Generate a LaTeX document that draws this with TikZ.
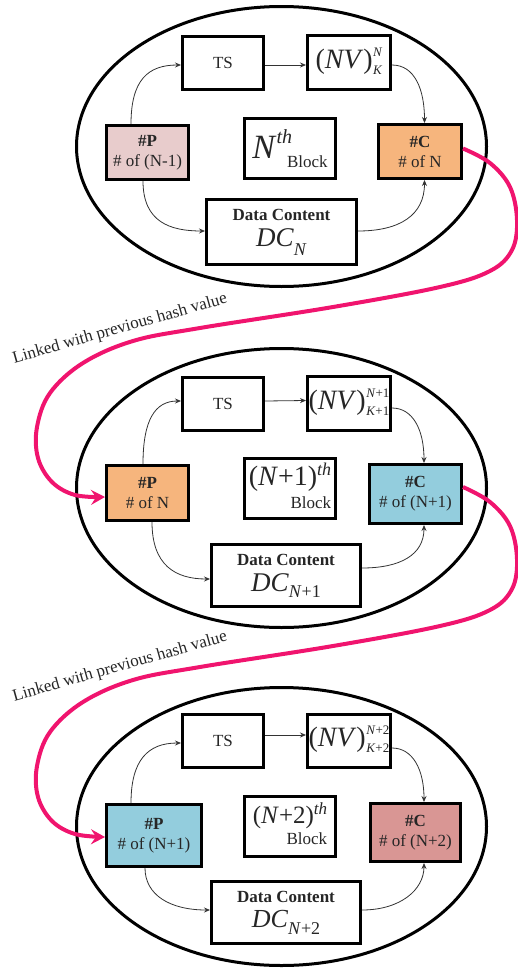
\documentclass[tikz,border=0pt]{standalone}
\usepackage{fontspec}
\setmainfont{Liberation Serif}
\usetikzlibrary{arrows.meta,shapes.geometric}
\definecolor{txt}{HTML}{262626}
\definecolor{pinkc}{RGB}{240,20,110}
\definecolor{fpink}{RGB}{232,204,204}
\definecolor{forange}{RGB}{246,181,125}
\definecolor{fblue}{RGB}{147,205,221}
\definecolor{frose}{RGB}{217,150,148}
\newcommand{\bigf}[2]{{\fontsize{#1}{#1}\selectfont #2}}
\newcommand{\nvtext}[2]{\bigf{28}{(\textit{NV})}\kern0.5pt\raisebox{-6pt}{\bigf{13}{\begin{tabular}[b]{@{}l@{}}#1\\[5pt]#2\end{tabular}}}}
\begin{document}
\begin{tikzpicture}[x=1pt,y=-1pt,
  ell/.style={draw=black, ellipse, line width=3pt, inner sep=0pt, minimum width=410pt},
  bx/.style 2 args={draw=black, line width=3pt, fill=white, inner sep=0pt, align=center,
     font=\fontsize{17}{20}\selectfont, text=txt, minimum width=#1pt, minimum height=#2pt},
  thin arrow/.style={line width=0.8pt, draw=black!80, -{Stealth[length=6pt,width=5pt]}},
  pinkline/.style={line width=4pt, draw=pinkc, -{Stealth[length=14pt,width=15pt,inset=5pt]}},
  linklabel/.style={font=\fontsize{17}{20}\selectfont, text=txt, rotate=15.8, inner sep=0pt}]
\useasboundingbox (0,0) rectangle (518,969);

% ---------- ellipses ----------
\node[ell, minimum height=280pt] (e1) at (281.5,146.5) {};
\node[ell, minimum height=279pt] (e2) at (281.5,488) {};
\node[ell, minimum height=278pt] (e3) at (281.5,826.5) {};

% ---------- block 1 ----------
\node[bx={81}{53}] (ts1) at (223,63) {TS};
\node[bx={83}{54}] (nv1) at (349,62.5) {\nvtext{\textit{N}}{\textit{K}}};
\node[bx={82}{54}, fill=fpink] (p1) at (147.5,152.5) {\textbf{\#P}\\\# of (N-1)};
\node[bx={91}{60}] (b1) at (290,148.5) {\raisebox{-7pt}{\bigf{34}{\textit{N}}\raisebox{15pt}{\bigf{20}{\textit{th}}}\kern-5pt\raisebox{-9pt}{Block}}};
\node[bx={83}{54}, fill=forange] (c1) at (420,151.5) {\textbf{\#C}\\\# of N};
\node[bx={150}{65}] (dc1) at (281.5,232) {\textbf{Data Content}\\[6pt]\bigf{27}{\textit{DC}}\raisebox{-9pt}{\bigf{18}{\textit{N}}}};

% ---------- block 2 ----------
\node[bx={81}{53}] (ts2) at (223,404) {TS};
\node[bx={83}{54}] (nv2) at (349,403.5) {\nvtext{\textit{N}+1}{\textit{K}+1}};
\node[bx={82}{55}, fill=forange] (p2) at (147.5,493) {\textbf{\#P}\\\# of N};
\node[bx={91}{60}] (b2) at (290,488.5) {\raisebox{-6pt}{\begin{tabular}{@{}r@{}}\bigf{28}{(\textit{N}+1)}\raisebox{10pt}{\bigf{18}{\textit{th}}}\\[3pt]Block\end{tabular}}};
\node[bx={92}{59}, fill=fblue] (c2) at (415.5,494) {\textbf{\#C}\\\# of (N+1)};
\node[bx={149}{62}] (dc2) at (286,575.5) {\textbf{Data Content}\\[6pt]\bigf{27}{\textit{DC}}\raisebox{-6pt}{\bigf{18}{\textit{N}+1}}};

% ---------- block 3 ----------
\node[bx={81}{53}] (ts3) at (223,741) {TS};
\node[bx={83}{53}] (nv3) at (349,741) {\nvtext{\textit{N}+2}{\textit{K}+2}};
\node[bx={95}{62}, fill=fblue] (p3) at (154,835.5) {\textbf{\#P}\\\# of (N+1)};
\node[bx={91}{60}] (b3) at (290,826.5) {\raisebox{-4pt}{\begin{tabular}{@{}r@{}}\bigf{25}{(\textit{N}+2)}\raisebox{9pt}{\bigf{17}{\textit{th}}}\\[1pt]Block\end{tabular}}};
\node[bx={90}{58}, fill=frose] (c3) at (415.5,832.5) {\textbf{\#C}\\\# of (N+2)};
\node[bx={149}{62}] (dc3) at (286,912.5) {\textbf{Data Content}\\[5pt]\bigf{26}{\textit{DC}}\raisebox{-7pt}{\bigf{18}{\textit{N}+2}}};

% ---------- thin arrows block 1 ----------
\draw[thin arrow] ([xshift=-16.5pt]p1.north) .. controls (131,80) and (148,65) .. ([yshift=-2pt]ts1.west);
\draw[thin arrow] ([yshift=-2pt]ts1.east) -- ([yshift=-2.5pt]nv1.west);
\draw[thin arrow] ([yshift=-2.5pt]nv1.east) .. controls (415,65) and (424.5,90) .. ([xshift=4.5pt]c1.north);
\draw[thin arrow] ([xshift=-4.5pt]p1.south) .. controls (143,222) and (170,231) .. ([yshift=1pt]dc1.west);
\draw[thin arrow] ([yshift=1pt]dc1.east) .. controls (400,231) and (424.5,215) .. ([xshift=4.5pt]c1.south);

% ---------- thin arrows block 2 ----------
\draw[thin arrow] ([xshift=-4.5pt]p2.north) .. controls (143,420) and (155,401) .. ([yshift=3pt]ts2.west);
\draw[thin arrow] ([yshift=3pt]ts2.east) -- ([yshift=3pt]nv2.west);
\draw[thin arrow] ([yshift=-4.5pt]nv2.east) .. controls (413,408) and (424,430) .. ([xshift=8.5pt]c2.north);
\draw[thin arrow] ([xshift=4.5pt]p2.south) .. controls (152,565) and (175,579) .. ([yshift=-3.5pt]dc2.west);
\draw[thin arrow] ([yshift=7.5pt]dc2.east) .. controls (400,568) and (424,555) .. ([xshift=8.5pt]c2.south);

% ---------- thin arrows block 3 ----------
\draw[thin arrow] ([xshift=-23pt]p3.north) .. controls (131,760) and (148,743) .. ([yshift=-2pt]ts3.west);
\draw[thin arrow] ([yshift=6pt]ts3.east) -- ([yshift=6pt]nv3.west);
\draw[thin arrow] ([yshift=-7pt]nv3.east) .. controls (413,748) and (424,770) .. ([xshift=8.5pt]c3.north);
\draw[thin arrow] ([xshift=-9pt]p3.south) .. controls (145,895) and (170,910) .. ([yshift=2.5pt]dc3.west);
\draw[thin arrow] ([yshift=2.5pt]dc3.east) .. controls (400,910) and (424,890) .. ([xshift=8.5pt]c3.south);

% ---------- labels ----------
\node[linklabel] (l1) at (120,329) {Linked with previous hash value};
\node[linklabel] (l2) at (120,667) {Linked with previous hash value};

% ---------- pink links ----------
\coordinate (s1) at ([yshift=3pt]c1.east);
\coordinate (t1) at ([yshift=-4pt]p2.west);
\coordinate (s2) at ([yshift=7pt]c2.east);
\coordinate (t2) at ([yshift=-1.5pt]p3.west);
\draw[pinkline] plot[smooth, tension=0.6] coordinates {(s1) (490,163) (510,187) (517,220) (512,250) (490,271) (440,287) (333,307) (200,328) (133,341) (83,363) (50,393) (37,427) (38,458) (52,482) (75,495) (t1)};
\draw[pinkline] plot[smooth, tension=0.6] coordinates {(s2) (490,502) (510,526) (517,559) (512,589) (490,610) (440,626) (333,646) (200,667) (133,680) (83,702) (50,732) (37,766) (38,797) (52,821) (75,834) (t2)};
\end{tikzpicture}
\end{document}
